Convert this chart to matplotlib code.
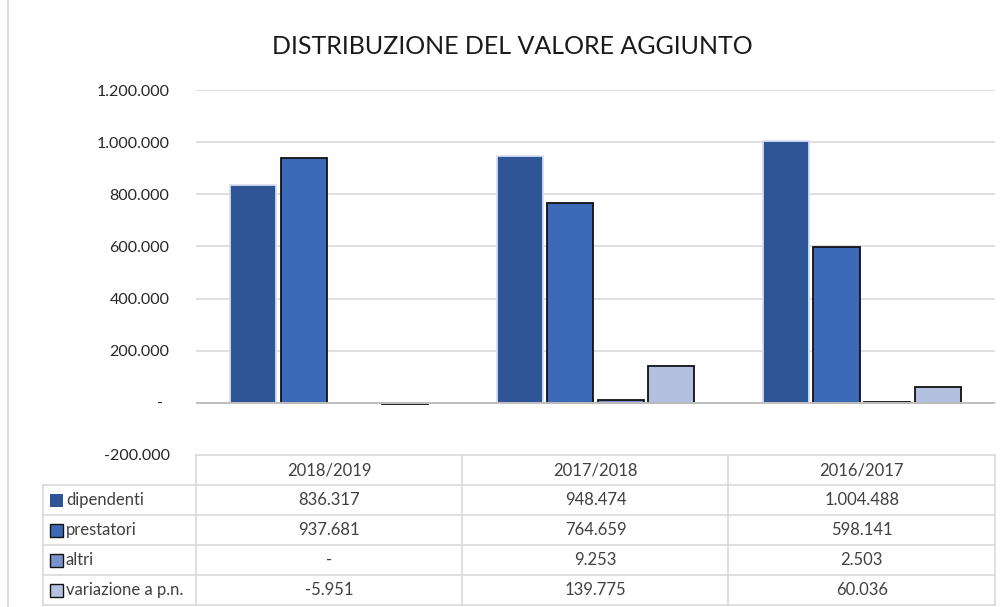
import numpy as np
import matplotlib
matplotlib.use("Agg")
import matplotlib.pyplot as plt
from matplotlib.patches import Rectangle
from matplotlib.lines import Line2D
import matplotlib.transforms as mtransforms

categories = ["2018/2019", "2017/2018", "2016/2017"]
series_names = ["dipendenti", "prestatori", "altri", "variazione a p.n."]
dipendenti = [836317, 948474, 1004488]
prestatori = [937681, 764659, 598141]
altri = [np.nan, 9253, 2503]
variazione = [-5951, 139775, 60036]
yticks = [-200000, 0, 200000, 400000, 600000, 800000, 1000000, 1200000]

series = [dipendenti, prestatori, altri, variazione]
colors = ["#2F5597", "#3D6AB8", "#7A93CF", "#B4C0E0"]
edges = ["#D6DFF0", "#111111", "#111111", "#111111"]

def fmt(v):
    if v is None or (isinstance(v, float) and np.isnan(v)) or v == 0:
        return "-"
    s = f"{abs(int(v)):,}".replace(",", ".")
    return ("-" if v < 0 else "") + s

plt.rcParams['font.family'] = ['Lato', 'DejaVu Sans']
W, H = 1005, 607
fig = plt.figure(figsize=(W / 100, H / 100), dpi=100)

def fx(px):
    return px / W

def fy(py):
    return 1 - py / H

left, right, top, bottom = 196, 995, 90, 455
ax = fig.add_axes([fx(left), fy(bottom), fx(right) - fx(left), fy(top) - fy(bottom)])
ax.set_xlim(-0.5, 2.5)
ax.set_ylim(-200000, 1200000)

x = np.arange(len(categories))
step = 0.19
width = 0.173
for i, (vals, c, e) in enumerate(zip(series, colors, edges)):
    off = (i - 1.5) * step
    ax.bar(x + off, vals, width=width, color=c, edgecolor=e, linewidth=1.3, zorder=3)

for t in yticks[1:]:
    ax.axhline(t, color="#D9D9D9", lw=1.2, zorder=1)
ax.axhline(0, color="#BFBFBF", lw=1.4, zorder=4)

ax.set_yticks(yticks)
ax.set_yticklabels([fmt(t) for t in yticks], fontsize=11.5, color="#262626")
ax.tick_params(axis="y", length=0, pad=19)
ax.tick_params(axis="x", length=0, labelbottom=False)
for lab, t in zip(ax.get_yticklabels(), yticks):
    if t == 0:
        lab.set_transform(lab.get_transform() + mtransforms.ScaledTranslation(-7 / 100, 0, fig.dpi_scale_trans))
for s in ax.spines.values():
    s.set_visible(False)

fig.text(0.5095, fy(47), "DISTRIBUZIONE DEL VALORE AGGIUNTO", ha="center", va="center",
         fontsize=18, color="#1a1a1a")

# table drawn below the axes: x in data coords, y in figure pixels
trans = mtransforms.blended_transform_factory(ax.transData, fig.transFigure)
gray = "#D9D9D9"
row_h = 30
tab_top = 455
rows_y = [tab_top + row_h * k for k in range(6)]  # 455..605
label_left = 43

def hline(x0px, x1px, ypx):
    fig.add_artist(Line2D([fx(x0px), fx(x1px)], [fy(ypx), fy(ypx)], color=gray, lw=1.2))

def vline(xpx, y0px, y1px):
    fig.add_artist(Line2D([fx(xpx), fx(xpx)], [fy(y0px), fy(y1px)], color=gray, lw=1.2))

hline(left, right, rows_y[0])
for yy in rows_y[1:]:
    hline(label_left, right, yy)
vline(label_left, rows_y[1], rows_y[5])
for bx in [left, 462, 728, right]:
    vline(bx, rows_y[0], rows_y[5])

txt_color = "#404040"
for j, cat in enumerate(categories):
    fig.text(x[j], fy((rows_y[0] + rows_y[1]) / 2), cat, transform=trans, ha="center",
             va="center", fontsize=12, color=txt_color)
for i, (name, vals, c) in enumerate(zip(series_names, series, colors)):
    yc = fy((rows_y[i + 1] + rows_y[i + 2]) / 2)
    ec = edges[i] if i > 0 else c
    fig.add_artist(Rectangle((fx(50), yc - 6.5 / H), 13 / W, 13 / H, facecolor=c,
                             edgecolor=ec, lw=1.0 if i > 0 else 0))
    fig.text(fx(66), yc, name, ha="left", va="center", fontsize=12, color=txt_color)
    for j in range(len(categories)):
        fig.text(x[j], yc, fmt(vals[j]), transform=trans, ha="center", va="center",
                 fontsize=12, color=txt_color)

# chart frame
vline(8, 0, 607)

fig.savefig("out.png", dpi=100)
